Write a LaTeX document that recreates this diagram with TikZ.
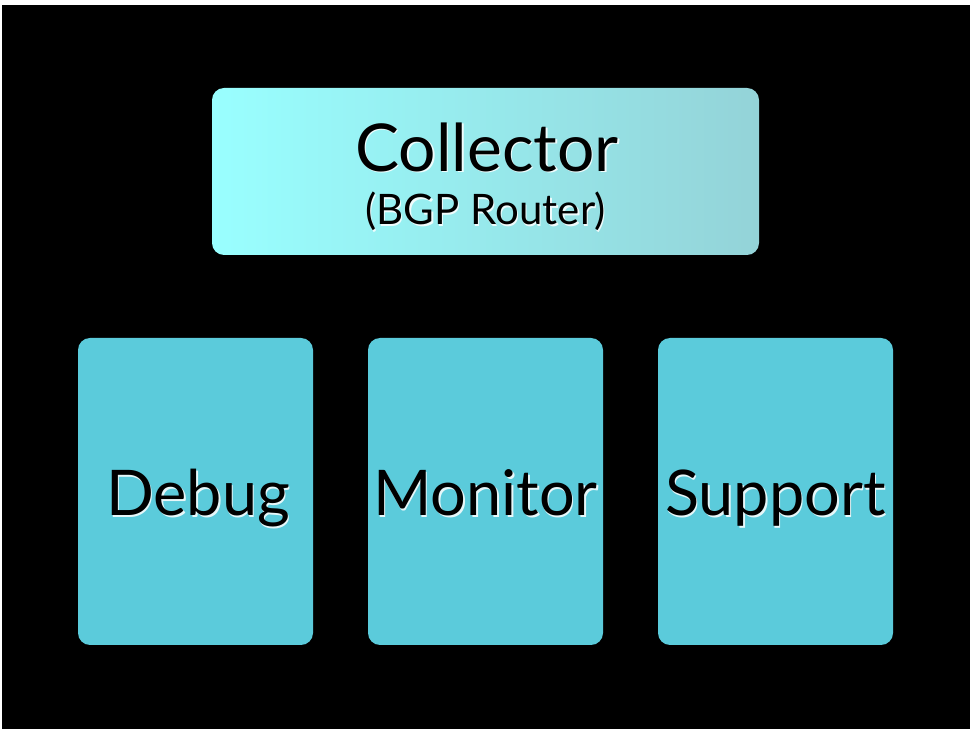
\documentclass[tikz,border=0pt]{standalone}
\usepackage{fontspec}
\setmainfont{Lato}
\usetikzlibrary{positioning, calc}

\definecolor{boxblue}{HTML}{5BCBDB}
\definecolor{lightcyan}{HTML}{99FFFF}
\definecolor{greycyan}{HTML}{94D3D8}

\tikzset{
  box/.style = {fill=boxblue, rounded corners=12pt, minimum width=235pt, minimum height=307pt, inner sep=0pt, outer sep=0pt},
  bigbox/.style = {rounded corners=12pt, shading=axis, left color=lightcyan, right color=greycyan, shading angle=90,
    minimum width=547pt, minimum height=167pt, inner sep=0pt, outer sep=0pt},
  big text/.style = {inner sep=0pt, anchor=base, font=\fontsize{63}{63}\selectfont},
  title text/.style = {inner sep=0pt, anchor=base, font=\fontsize{66}{66}\selectfont},
  small text/.style = {inner sep=0pt, anchor=base, font=\fontsize{42}{42}\selectfont},
  shade/.style = {text=white, opacity=.85}
}

\begin{document}
\begin{tikzpicture}[x=1pt, y=1pt]
\useasboundingbox (0,0) rectangle (970,729);
\fill[white] (0,0) rectangle (970,729);
\fill[black] (2,0) rectangle (970,724);

\node[bigbox] (collector) at (485.5,557.5) {};
\node[box] (monitor) at (485.5,237.5) {};
\node[box, left=55pt of monitor] (debug) {};
\node[box, right=55pt of monitor] (support) {};

% white shadow first, then the black text on top
\node[title text, shade] (collector-s) at ($(collector.center)+(3,-1.5)$) {Collector};
\node[title text] (collector-t) at ($(collector.center)+(1.5,0)$) {Collector};
\node[small text, shade] (router-s) at ($(collector.center)+(1.2,-55)$) {(BGP Router)};
\node[small text] (router-t) at ($(collector.center)+(0,-53.5)$) {(BGP Router)};

\node[big text, shade] (debug-s) at ($(debug.center)+(4,-26)$) {Debug};
\node[big text] (debug-t) at ($(debug.center)+(2.5,-24.5)$) {Debug};
\node[big text, shade] (monitor-s) at ($(monitor.center)+(1.5,-26)$) {Monitor};
\node[big text] (monitor-t) at ($(monitor.center)+(0,-24.5)$) {Monitor};
\node[big text, shade] (support-s) at ($(support.center)+(1.5,-26)$) {Support};
\node[big text] (support-t) at ($(support.center)+(0,-24.5)$) {Support};
\end{tikzpicture}
\end{document}
